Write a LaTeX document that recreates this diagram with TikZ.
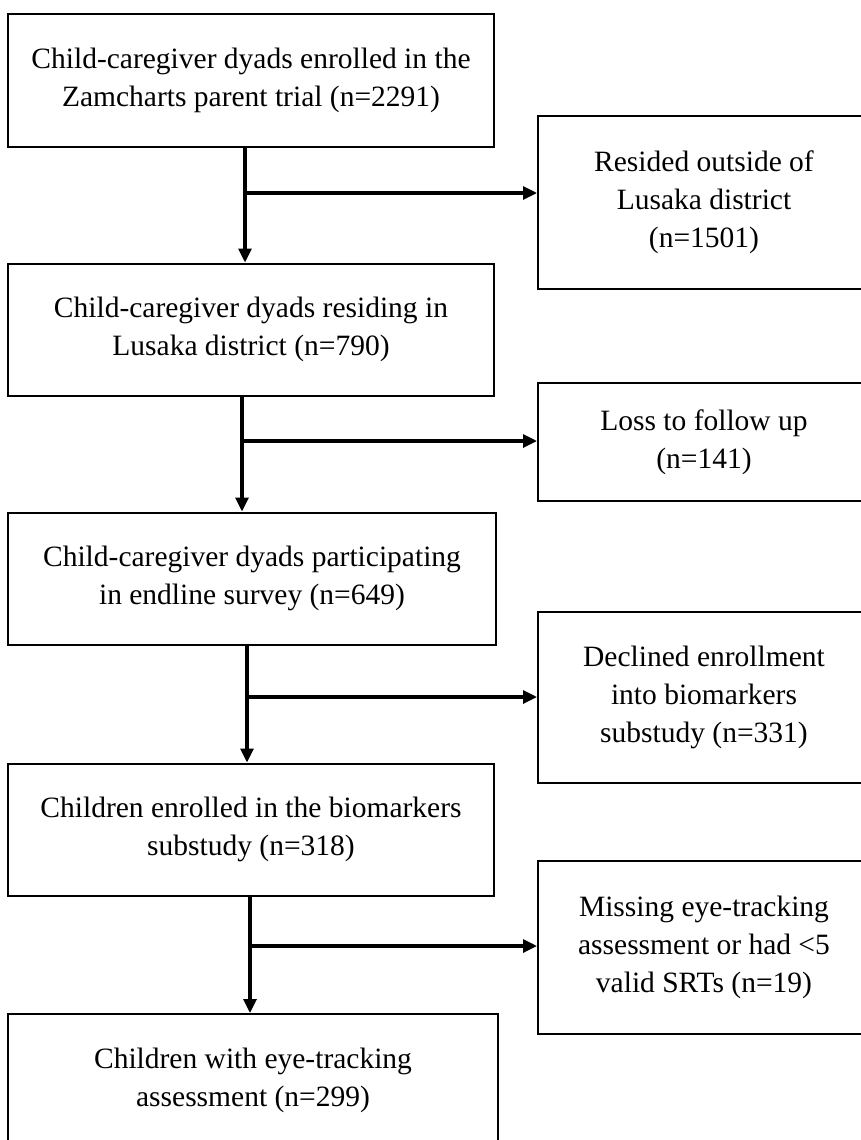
\documentclass[tikz,border=0pt]{standalone}
\usepackage{fontspec}
\setmainfont{Liberation Serif}
\usetikzlibrary{arrows.meta}
\begin{document}
\begin{tikzpicture}[x=1pt,y=-1pt,
  box/.style={draw=black, line width=2pt, rectangle, inner sep=0pt, align=center,
    font=\fontsize{29.5}{38}\selectfont},
  mainbox/.style={box, minimum width=486pt, minimum height=132pt},
  sidebox/.style={box, minimum width=332pt},
  flow/.style={line width=3.2pt, -{Triangle[length=14pt,width=13pt]}}]
\useasboundingbox (0,0) rectangle (861,1140);
\clip (0,0) rectangle (861,1140);
\fill[white] (0,0) rectangle (861,1140);

\node[mainbox] (b1) at (251,80.5) {Child-caregiver dyads enrolled in the\\Zamcharts parent trial (n=2291)};
\node[mainbox] (b2) at (251,329.5) {Child-caregiver dyads residing in\\Lusaka district (n=790)};
\node[mainbox, minimum width=488pt] (b3) at (252,578.5) {Child-caregiver dyads participating\\in endline survey (n=649)};
\node[mainbox] (b4) at (251,829.5) {Children enrolled in the biomarkers\\substudy (n=318)};
\node[mainbox, minimum width=490pt] (b5) at (253,1080) {Children with eye-tracking\\assessment (n=299)};

\node[sidebox, minimum height=173pt] (r1) at (704,202.5) {Resided outside of\\Lusaka district\\(n=1501)};
\node[sidebox, minimum height=118pt] (r2) at (704,442) {Loss to follow up\\(n=141)};
\node[sidebox, minimum height=171pt] (r3) at (704,697.5) {Declined enrollment\\into biomarkers\\substudy (n=331)};
\node[sidebox, minimum height=173pt] (r4) at (704,947.5) {Missing eye-tracking\\assessment or had <5\\valid SRTs (n=19)};

\coordinate (v1) at (245,193);
\coordinate (v2) at (242,441);
\coordinate (v3) at (247,697);
\coordinate (v4) at (250,946);

\draw[flow] (b1.south -| v1) -- (b2.north -| v1);
\draw[flow] (v1) -- (v1 -| r1.west);
\draw[flow] (b2.south -| v2) -- (b3.north -| v2);
\draw[flow] (v2) -- (v2 -| r2.west);
\draw[flow] (b3.south -| v3) -- (b4.north -| v3);
\draw[flow] (v3) -- (v3 -| r3.west);
\draw[flow] (b4.south -| v4) -- (b5.north -| v4);
\draw[flow] (v4) -- (v4 -| r4.west);
\end{tikzpicture}
\end{document}
